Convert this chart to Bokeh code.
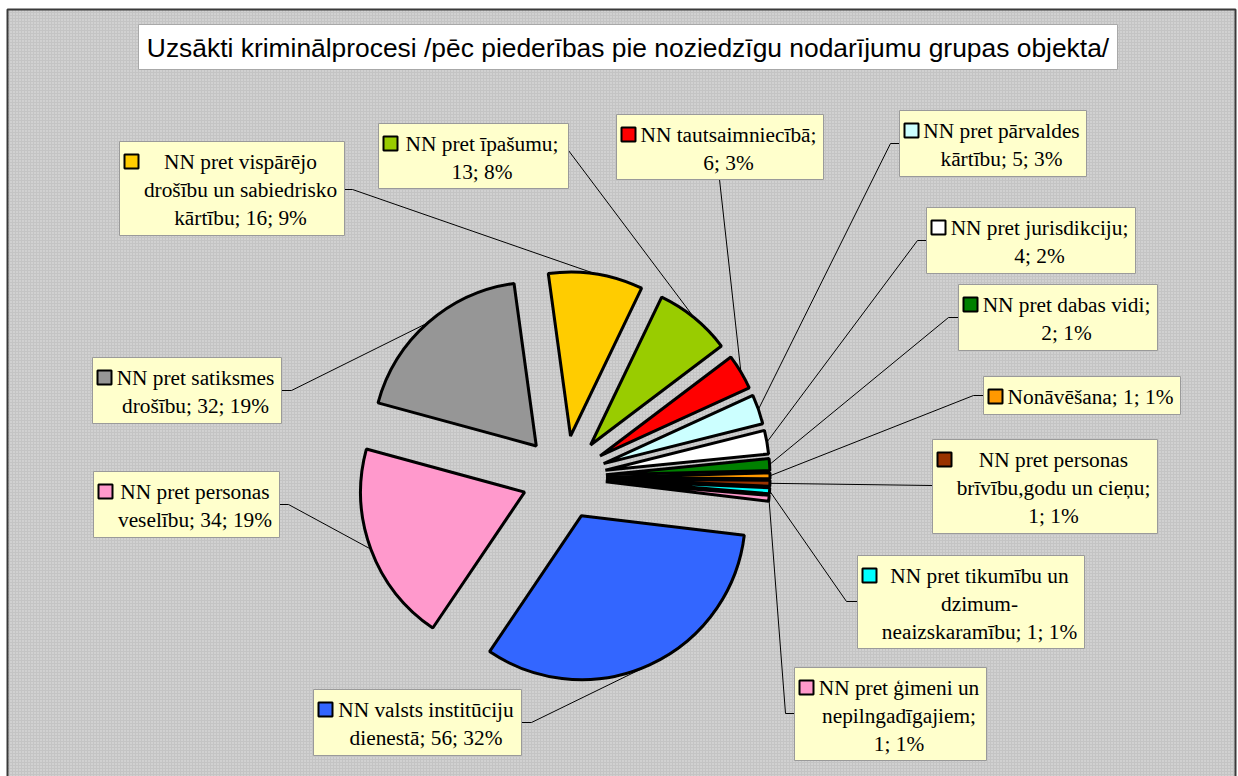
import math
import re
from bokeh.plotting import figure
from bokeh.models import Range1d
from bokeh.embed import file_html
from bokeh.resources import INLINE
from bokeh.core.properties import value

# ---------------- data ----------------
title_text = "Uzsākti kriminālprocesi /pēc piederības pie noziedzīgu nodarījumu grupas objekta/"
categories = [
    "NN pret vispārējo drošību un sabiedrisko kārtību",
    "NN pret īpašumu",
    "NN tautsaimniecībā",
    "NN pret pārvaldes kārtību",
    "NN pret jurisdikciju",
    "NN pret dabas vidi",
    "Nonāvēšana",
    "NN pret personas brīvību,godu un cieņu",
    "NN pret tikumību un dzimum-neaizskaramību",
    "NN pret ģimeni un nepilngadīgajiem",
    "NN valsts institūciju dienestā",
    "NN pret personas veselību",
    "NN pret satiksmes drošību",
]
counts = [16, 13, 6, 5, 4, 2, 1, 1, 1, 1, 56, 34, 32]
percents = [9, 8, 3, 3, 2, 1, 1, 1, 1, 1, 32, 19, 19]
colors = ["#FFCC00", "#99CC00", "#FF0000", "#CCFFFF", "#FFFFFF", "#008000",
          "#FF9900", "#993300", "#00FFFF", "#FF99CC", "#3366FF", "#FF99CC", "#969696"]

# ---------------- layout (reference pixel coords) ----------------
W, H = 1238, 776
def X(rx): return rx
def Y(ry): return H - ry

pie_cx, pie_cy = 563.5, 477.0
explode = 42.0
R = 164.0
first_angle = -7.8  # degrees clockwise from 12 o'clock

# label boxes: left, top, right, bottom
boxes = [
    (119, 141, 344, 235),
    (378, 123, 568, 188),
    (616, 114, 823, 179),
    (899, 110, 1086, 176),
    (926, 207, 1135, 273),
    (958, 284, 1157, 350),
    (983, 376, 1180, 414),
    (932, 439, 1157, 533),
    (857, 555, 1084, 648),
    (794, 667, 986, 760),
    (313, 689, 521, 755),
    (93, 471, 279, 537),
    (92, 357, 281, 423),
]
anchors = [(344, 189), (568, 150), (719, 179), (899, 143), (926, 240), (958, 317),
           (983, 395), (932, 485), (857, 601), (794, 713), (521, 722), (279, 504), (281, 390)]
elbows = [(352, 189), (568, 150), (719, 179), (890, 143), (917, 240), (948, 317),
          (973, 395), (932, 485), (846, 601), (785, 713), (531, 722), (288, 504), (291, 390)]
line_words = [[3, 3, 3], [3, 2], [2, 2], [3, 3], [3, 2], [4, 2], [3], [3, 3, 2],
              [4, 1, 3], [4, 1, 2], [3, 3], [3, 3], [3, 3]]

p = figure(width=W, height=H, output_backend="svg", toolbar_location=None,
           x_range=Range1d(0, W), y_range=Range1d(0, H), min_border=0)
p.axis.visible = False
p.grid.visible = False
p.outline_line_color = None
p.background_fill_color = "white"
p.border_fill_color = "white"

# chart area background with dotted texture and dark frame
p.quad(left=[X(7)], right=[X(1235)], top=[Y(9)], bottom=[-10],
       fill_color="#c4c4c4", line_color="#3a3a3a", line_width=2,
       hatch_pattern="dot", hatch_color="white", hatch_alpha=0.55,
       hatch_scale=3, hatch_weight=1)

# title box
p.quad(left=[X(138)], right=[X(1117)], top=[Y(24)], bottom=[Y(69)],
       fill_color="white", line_color="#a8a8a8", line_width=1)
p.text(x=[X((138 + 1117) / 2)], y=[Y(47)], text=[title_text],
       text_font=value("Liberation Sans"), text_font_size="26.4px",
       text_align="center", text_baseline="middle", text_color="black")

# wedges
total = sum(counts)
wx, wy, sa, ea, lx, ly = [], [], [], [], [], []
cum = 0
for c in counts:
    s = first_angle + 360.0 * cum / total
    e = first_angle + 360.0 * (cum + c) / total
    cum += c
    mid = math.radians((s + e) / 2)
    vx = pie_cx + explode * math.sin(mid)
    vy = pie_cy - explode * math.cos(mid)
    wx.append(X(vx)); wy.append(Y(vy))
    sa.append(math.radians(90 - e)); ea.append(math.radians(90 - s))
    lx.append(vx + R * math.sin(mid)); ly.append(vy - R * math.cos(mid))

p.wedge(x=wx, y=wy, radius=R, start_angle=sa, end_angle=ea,
        direction="anticlock", fill_color=colors, line_color="black", line_width=3)

# leader lines
xs, ys = [], []
for (ax, ay), (ex, ey), tx, ty in zip(anchors, elbows, lx, ly):
    xs.append([X(ax), X(ex), X(tx)])
    ys.append([Y(ay), Y(ey), Y(ty)])
p.multi_line(xs=xs, ys=ys, line_color="black", line_width=1)

# label boxes
p.quad(left=[X(b[0]) for b in boxes], right=[X(b[2]) for b in boxes],
       top=[Y(b[1]) for b in boxes], bottom=[Y(b[3]) for b in boxes],
       fill_color="#FFFFCC", line_color="#9a9a9a", line_width=1)

# label texts + legend keys
tx_all, ty_all, tt_all = [], [], []
mk_x, mk_y = [], []
for name, cnt, pc, b, words in zip(categories, counts, percents, boxes, line_words):
    label = f"{name}; {cnt}; {pc}%"
    tokens = re.findall(r"[^\s-]+-|\S+", label)
    pos = 0
    cx = (b[0] + 17 + b[2]) / 2
    for i, n in enumerate(words):
        toks = tokens[pos:pos + n]
        pos += n
        line = ""
        for t in toks:
            if line and not line.endswith("-"):
                line += " "
            line += t
        tx_all.append(X(cx)); ty_all.append(Y(b[1] + 20 + 28 * i)); tt_all.append(line)
    mk_x.append(X(b[0] + 12)); mk_y.append(Y(b[1] + 20))

p.text(x=tx_all, y=ty_all, text=tt_all, text_font=value("Liberation Serif"),
       text_font_size="16pt", text_align="center", text_baseline="middle",
       text_color="black")
p.scatter(x=mk_x, y=mk_y, marker="square", size=14, fill_color=colors,
          line_color="black", line_width=2)

open("out.html", "w").write(file_html(p, INLINE))
